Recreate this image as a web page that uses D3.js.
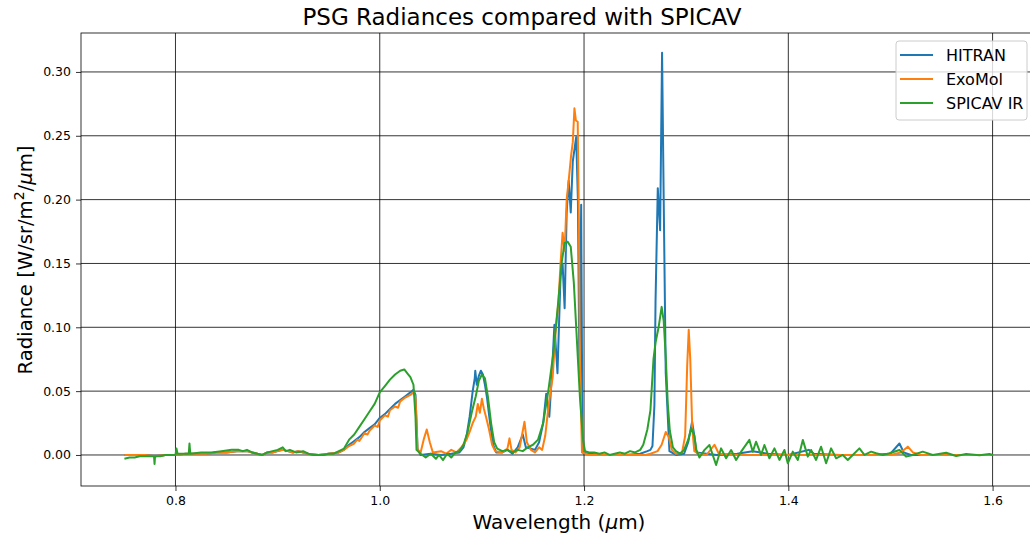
<!DOCTYPE html>
<html>
<head>
<meta charset="utf-8">
<script src="https://cdn.jsdelivr.net/npm/d3@7"></script>
<style>
  body { margin: 0; background: #fff; }
  svg { font-family: "DejaVu Sans", sans-serif; }
</style>
</head>
<body>
<svg id="chart" width="1030" height="538"></svg>
<script>
// spectra: [wavelength (um), radiance]
const hitran = [
  [0.750, 0.000], [0.760, 0.000], [0.770, 0.000], [0.780, -0.001], [0.790, 0.000], [0.800, 0.000],
  [0.810, 0.001], [0.820, 0.001], [0.830, 0.001], [0.840, 0.002], [0.850, 0.002], [0.860, 0.003],
  [0.870, 0.003], [0.875, 0.002], [0.880, 0.001], [0.885, 0.000], [0.890, 0.002], [0.895, 0.002],
  [0.900, 0.003], [0.905, 0.004], [0.910, 0.003], [0.915, 0.002], [0.920, 0.003], [0.925, 0.002],
  [0.930, 0.001], [0.940, 0.000], [0.950, 0.001], [0.960, 0.002], [0.965, 0.004], [0.970, 0.008],
  [0.975, 0.011], [0.980, 0.014], [0.985, 0.018], [0.990, 0.021], [0.995, 0.024], [1.000, 0.029],
  [1.005, 0.032], [1.010, 0.036], [1.015, 0.040], [1.020, 0.043], [1.025, 0.046], [1.030, 0.049],
  [1.033, 0.051], [1.035, 0.047], [1.037, 0.005], [1.040, 0.000], [1.050, 0.001], [1.060, 0.000],
  [1.070, 0.001], [1.078, 0.002], [1.082, 0.006], [1.085, 0.015], [1.088, 0.030], [1.091, 0.050],
  [1.093, 0.060], [1.0935, 0.066], [1.095, 0.055], [1.097, 0.062], [1.099, 0.066], [1.101, 0.063],
  [1.103, 0.055], [1.105, 0.045], [1.108, 0.025], [1.111, 0.008], [1.114, 0.002], [1.120, 0.002],
  [1.125, 0.004], [1.130, 0.001], [1.135, 0.006], [1.140, 0.016], [1.143, 0.006], [1.148, 0.005],
  [1.152, 0.004], [1.156, 0.010], [1.160, 0.025], [1.163, 0.048], [1.166, 0.030], [1.169, 0.070],
  [1.171, 0.102], [1.174, 0.064], [1.177, 0.140], [1.179, 0.150], [1.181, 0.115], [1.183, 0.190],
  [1.185, 0.215], [1.187, 0.190], [1.189, 0.230], [1.1923, 0.249], [1.194, 0.200], [1.1955, 0.064],
  [1.1972, 0.196], [1.1985, 0.002], [1.205, 0.001], [1.220, 0.000], [1.240, 0.000], [1.255, 0.001],
  [1.262, 0.003], [1.265, 0.004], [1.267, 0.007], [1.2689, 0.039], [1.270, 0.120], [1.2722, 0.209],
  [1.2745, 0.176], [1.2764, 0.315], [1.278, 0.200], [1.280, 0.064], [1.2836, 0.003], [1.290, 0.000],
  [1.298, 0.001], [1.302, 0.010], [1.3058, 0.026], [1.308, 0.015], [1.310, 0.002], [1.330, 0.000],
  [1.350, 0.001], [1.365, 0.003], [1.380, 0.001], [1.400, 0.000], [1.420, 0.004], [1.425, 0.001],
  [1.450, 0.000], [1.480, 0.000], [1.500, 0.001], [1.5088, 0.009], [1.513, 0.002], [1.520, 0.000],
  [1.560, 0.000], [1.600, 0.000]
];

const exomol = [
  [0.750, 0.000], [0.760, 0.000], [0.770, 0.000], [0.780, -0.001], [0.790, 0.000], [0.800, 0.000],
  [0.810, 0.001], [0.820, 0.001], [0.830, 0.001], [0.840, 0.002], [0.850, 0.002], [0.860, 0.003],
  [0.870, 0.003], [0.875, 0.002], [0.880, 0.001], [0.885, 0.000], [0.890, 0.002], [0.895, 0.002],
  [0.900, 0.003], [0.905, 0.004], [0.910, 0.003], [0.915, 0.002], [0.920, 0.003], [0.925, 0.002],
  [0.930, 0.001], [0.940, 0.000], [0.950, 0.001], [0.960, 0.002], [0.965, 0.004], [0.970, 0.007],
  [0.975, 0.009], [0.978, 0.012], [0.980, 0.011], [0.985, 0.017], [0.988, 0.016], [0.990, 0.019],
  [0.995, 0.023], [0.998, 0.022], [1.000, 0.027], [1.005, 0.031], [1.008, 0.030], [1.010, 0.035],
  [1.015, 0.038], [1.018, 0.037], [1.020, 0.042], [1.025, 0.045], [1.030, 0.047], [1.033, 0.049],
  [1.035, 0.045], [1.037, 0.004], [1.040, 0.002], [1.043, 0.012], [1.046, 0.020], [1.049, 0.010],
  [1.052, 0.002], [1.060, 0.003], [1.065, 0.001], [1.070, 0.004], [1.075, 0.002], [1.080, 0.006],
  [1.085, 0.012], [1.088, 0.018], [1.091, 0.025], [1.094, 0.030], [1.096, 0.040], [1.098, 0.033],
  [1.100, 0.044], [1.102, 0.036], [1.104, 0.030], [1.107, 0.020], [1.110, 0.008], [1.113, 0.003],
  [1.120, 0.002], [1.125, 0.005], [1.127, 0.013], [1.129, 0.004], [1.133, 0.002], [1.137, 0.006],
  [1.1417, 0.026], [1.144, 0.010], [1.148, 0.004], [1.152, 0.002], [1.156, 0.006], [1.159, 0.004],
  [1.162, 0.015], [1.1655, 0.040], [1.1693, 0.061], [1.172, 0.095], [1.175, 0.120], [1.177, 0.150],
  [1.179, 0.174], [1.181, 0.160], [1.183, 0.200], [1.185, 0.215], [1.1874, 0.235], [1.189, 0.245],
  [1.1906, 0.2715], [1.192, 0.262], [1.1938, 0.261], [1.195, 0.180], [1.196, 0.070], [1.198, 0.002],
  [1.205, 0.000], [1.230, 0.000], [1.260, 0.000], [1.265, 0.001], [1.272, 0.003], [1.276, 0.008],
  [1.280, 0.018], [1.283, 0.014], [1.286, 0.004], [1.290, 0.001], [1.296, 0.002], [1.299, 0.015],
  [1.301, 0.070], [1.3025, 0.098], [1.304, 0.075], [1.306, 0.020], [1.308, 0.003], [1.312, 0.001],
  [1.320, 0.000], [1.3277, 0.008], [1.332, 0.001], [1.350, 0.000], [1.400, 0.000], [1.450, 0.000],
  [1.500, 0.000], [1.510, 0.002], [1.517, 0.0065], [1.522, 0.002], [1.530, 0.000], [1.600, 0.000]
];

const spicav = [
  [0.750, -0.003], [0.755, -0.002], [0.760, -0.002], [0.765, -0.001], [0.770, -0.001], [0.775, -0.001],
  [0.779, -0.001], [0.7795, -0.007], [0.780, -0.001], [0.785, -0.001], [0.790, 0.000], [0.795, 0.000],
  [0.800, 0.000], [0.801, 0.005], [0.802, 0.001], [0.808, 0.001], [0.813, 0.001], [0.8137, 0.009],
  [0.8145, 0.001], [0.825, 0.002], [0.835, 0.002], [0.845, 0.003], [0.855, 0.004], [0.862, 0.004],
  [0.866, 0.003], [0.870, 0.004], [0.875, 0.002], [0.880, 0.001], [0.885, 0.000], [0.890, 0.002],
  [0.895, 0.003], [0.900, 0.004], [0.905, 0.006], [0.908, 0.003], [0.912, 0.004], [0.918, 0.002],
  [0.925, 0.003], [0.930, 0.001], [0.935, 0.000], [0.940, 0.000], [0.945, 0.000], [0.950, 0.001],
  [0.955, 0.001], [0.960, 0.003], [0.965, 0.005], [0.970, 0.012], [0.975, 0.016], [0.980, 0.022],
  [0.985, 0.028], [0.990, 0.034], [0.995, 0.040], [1.000, 0.049], [1.005, 0.054], [1.010, 0.059],
  [1.015, 0.063], [1.020, 0.066], [1.024, 0.067], [1.027, 0.064], [1.030, 0.061], [1.033, 0.055],
  [1.035, 0.030], [1.036, 0.004], [1.040, 0.001], [1.045, -0.002], [1.050, 0.001], [1.055, -0.003],
  [1.058, 0.000], [1.062, -0.004], [1.066, 0.001], [1.070, -0.002], [1.074, 0.002], [1.078, 0.003],
  [1.082, 0.008], [1.086, 0.018], [1.090, 0.033], [1.094, 0.046], [1.097, 0.058], [1.100, 0.063],
  [1.103, 0.060], [1.106, 0.045], [1.109, 0.025], [1.112, 0.010], [1.115, 0.005], [1.120, 0.003],
  [1.125, 0.004], [1.130, 0.002], [1.135, 0.004], [1.140, 0.003], [1.145, 0.006], [1.150, 0.008],
  [1.155, 0.012], [1.160, 0.025], [1.165, 0.050], [1.170, 0.080], [1.175, 0.122], [1.178, 0.150],
  [1.181, 0.166], [1.184, 0.167], [1.187, 0.163], [1.190, 0.135], [1.193, 0.090], [1.196, 0.045],
  [1.199, 0.012], [1.201, 0.003], [1.205, 0.002], [1.210, 0.002], [1.215, 0.001], [1.220, 0.002],
  [1.225, 0.000], [1.230, 0.001], [1.235, 0.002], [1.240, 0.001], [1.245, 0.003], [1.250, 0.002],
  [1.255, 0.004], [1.258, 0.008], [1.262, 0.020], [1.265, 0.035], [1.268, 0.075], [1.270, 0.088],
  [1.273, 0.100], [1.276, 0.116], [1.278, 0.105], [1.280, 0.077], [1.282, 0.040], [1.284, 0.019],
  [1.287, 0.006], [1.290, 0.003], [1.294, 0.001], [1.298, 0.004], [1.302, 0.012], [1.305, 0.021],
  [1.308, 0.015], [1.310, 0.004], [1.313, -0.002], [1.318, 0.004], [1.3228, 0.0078], [1.326, 0.000],
  [1.3293, -0.0078], [1.3342, 0.0052], [1.3391, -0.0026], [1.344, 0.0039], [1.3489, -0.0039],
  [1.3538, 0.0026], [1.3619, 0.0118], [1.3652, 0.0026], [1.3684, 0.0104], [1.3733, 0.000],
  [1.3766, 0.0078], [1.3815, -0.0026], [1.3864, 0.0052], [1.3913, -0.0039], [1.3962, 0.0039],
  [1.3995, -0.0065], [1.4044, 0.0026], [1.4093, -0.0039], [1.4142, 0.0118], [1.4191, -0.0013],
  [1.4223, 0.0039], [1.4272, -0.0039], [1.4321, 0.0065], [1.437, -0.0065], [1.4419, 0.0052],
  [1.4468, -0.0026], [1.4533, 0.000], [1.4582, -0.0039], [1.4631, 0.000], [1.4696, 0.0052],
  [1.4745, 0.000], [1.4811, 0.0026], [1.486, 0.0013], [1.4925, 0.000], [1.499, 0.0013],
  [1.5088, 0.0039], [1.5153, -0.0013], [1.5219, 0.000], [1.5316, 0.0026], [1.5414, 0.000],
  [1.5545, 0.0018], [1.5643, -0.0008], [1.5741, 0.0008], [1.5871, -0.0003], [1.5969, 0.0008],
  [1.6002, 0.000]
];

const seriesNames = ["HITRAN", "ExoMol", "SPICAV IR"];
const seriesColors = ["#1f77b4", "#ff7f0e", "#2ca02c"];
const xTicks = [0.8, 1.0, 1.2, 1.4, 1.6];
const yTicks = [0.00, 0.05, 0.10, 0.15, 0.20, 0.25, 0.30];

const svg = d3.select("#chart");
const plotLeft = 81, plotRight = 1036, plotTop = 33, plotBottom = 486;

const x = d3.scaleLinear().domain([0.7075, 1.6425]).range([plotLeft, plotRight]);
const y = d3.scaleLinear().domain([-0.0243, 0.3305]).range([plotBottom, plotTop]);

// grid
svg.append("g").selectAll("line")
  .data(xTicks).enter().append("line")
  .attr("x1", d => x(d)).attr("x2", d => x(d))
  .attr("y1", plotTop).attr("y2", plotBottom)
  .attr("stroke", "#000").attr("stroke-width", 0.8);

svg.append("g").selectAll("line")
  .data(yTicks).enter().append("line")
  .attr("x1", plotLeft).attr("x2", plotRight)
  .attr("y1", d => y(d)).attr("y2", d => y(d))
  .attr("stroke", "#000").attr("stroke-width", 0.8);

// spectra
const line = d3.line().x(d => x(d[0])).y(d => y(d[1]));
[hitran, exomol, spicav].forEach((s, i) => {
  svg.append("path")
    .datum(s)
    .attr("fill", "none")
    .attr("stroke", seriesColors[i])
    .attr("stroke-width", 2)
    .attr("stroke-linejoin", "round")
    .attr("d", line);
});

// axes
const xAxis = svg.append("g")
  .attr("transform", `translate(0,${plotBottom})`)
  .call(d3.axisBottom(x).tickValues(xTicks).tickFormat(d3.format(".1f")).tickSizeOuter(0).tickSize(5).tickPadding(5));
const yAxis = svg.append("g")
  .attr("transform", `translate(${plotLeft},0)`)
  .call(d3.axisLeft(y).tickValues(yTicks).tickFormat(d3.format(".2f")).tickSizeOuter(0).tickSize(5).tickPadding(5));
[xAxis, yAxis].forEach(a => {
  a.select(".domain").remove();
  a.selectAll("text").attr("font-size", 12.5).attr("fill", "#000").attr("font-family", "DejaVu Sans");
  a.selectAll(".tick line").attr("stroke", "#000").attr("stroke-width", 0.8);
});

// frame
svg.append("rect")
  .attr("x", plotLeft).attr("y", plotTop)
  .attr("width", plotRight - plotLeft).attr("height", plotBottom - plotTop)
  .attr("fill", "none").attr("stroke", "#000").attr("stroke-width", 0.8);

// title and labels
svg.append("text")
  .attr("x", 522).attr("y", 25)
  .attr("text-anchor", "middle").attr("font-size", 23)
  .text("PSG Radiances compared with SPICAV");

const xl = svg.append("text")
  .attr("x", 559).attr("y", 529)
  .attr("text-anchor", "middle").attr("font-size", 20);
xl.append("tspan").text("Wavelength (");
xl.append("tspan").attr("font-style", "italic").text("μ");
xl.append("tspan").text("m)");

const yl = svg.append("text")
  .attr("transform", "translate(32,260) rotate(-90)")
  .attr("text-anchor", "middle").attr("font-size", 19.6);
yl.append("tspan").text("Radiance [W/sr/m");
yl.append("tspan").attr("font-size", 14).attr("dy", -8).text("2");
yl.append("tspan").attr("dy", 8).text("/");
yl.append("tspan").attr("font-style", "italic").text("μ");
yl.append("tspan").text("m]");

// legend
const lg = svg.append("g");
lg.append("rect")
  .attr("x", 896).attr("y", 41).attr("width", 131).attr("height", 79)
  .attr("rx", 3)
  .attr("fill", "#fff").attr("fill-opacity", 0.8)
  .attr("stroke", "#ccc");
seriesNames.forEach((name, i) => {
  const ly = 55 + i * 24;
  lg.append("line")
    .attr("x1", 900).attr("x2", 933)
    .attr("y1", ly).attr("y2", ly)
    .attr("stroke", seriesColors[i]).attr("stroke-width", 2);
  lg.append("text")
    .attr("x", 946).attr("y", ly + 6)
    .attr("font-size", 16)
    .text(name);
});
</script>
</body>
</html>
